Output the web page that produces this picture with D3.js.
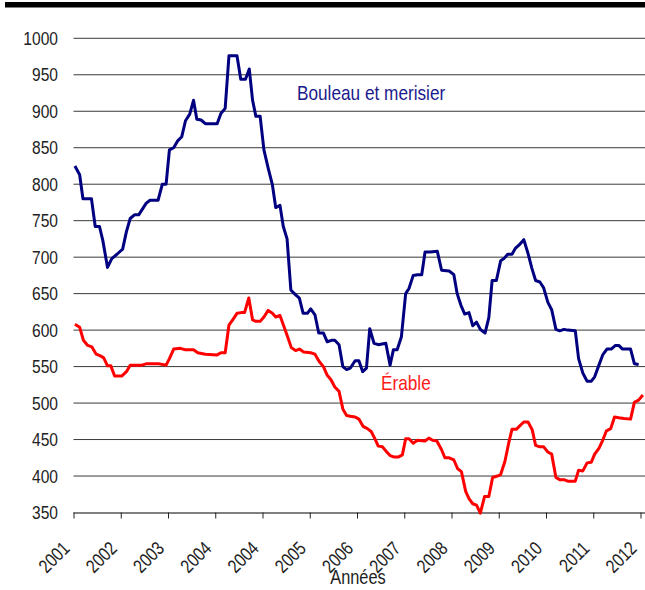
<!DOCTYPE html>
<html>
<head>
<meta charset="utf-8">
<script src="https://cdn.jsdelivr.net/npm/d3@7"></script>
<style>
    body { margin: 0; background: white; }
    text { font-family: 'Liberation Sans', Arial, sans-serif; }
</style>
</head>
<body>
<svg id="chart" width="645" height="590"></svg>
<script>
// # Data (t = years after the first tick)

var yearLabels = ['2001', '2002', '2003', '2004', '2004', '2005', '2006', '2007', '2008', '2009', '2010', '2011', '2012'];
var yTicks = [350, 400, 450, 500, 550, 600, 650, 700, 750, 800, 850, 900, 950, 1000];

var bouleauT = [0.03, 0.13, 0.2, 0.38, 0.46, 0.55, 0.62, 0.72, 0.81, 0.92, 1.04, 1.12, 1.2, 1.29, 1.38, 1.54, 1.62, 1.79, 1.88, 1.96,
    2.03, 2.12, 2.2, 2.29, 2.37, 2.46, 2.54, 2.61, 2.7, 2.79, 3.04, 3.12, 3.21, 3.29, 3.46, 3.54, 3.64, 3.72, 3.79, 3.86, 3.95,
    4.03, 4.12, 4.21, 4.28, 4.37, 4.44, 4.52, 4.6, 4.69, 4.78, 4.86, 4.95, 5.02, 5.11, 5.19, 5.29, 5.37, 5.46, 5.53, 5.62, 5.7,
    5.78, 5.86, 5.96, 6.04, 6.12, 6.2, 6.27, 6.36, 6.45, 6.61, 6.7, 6.77, 6.85, 6.94, 7.03, 7.1, 7.19, 7.28, 7.37, 7.44, 7.55,
    7.7, 7.79, 7.95, 8.05, 8.12, 8.2, 8.28, 8.37, 8.45, 8.53, 8.61, 8.71, 8.79, 8.86, 8.95, 9.04, 9.11, 9.19, 9.28, 9.35, 9.45,
    9.53, 9.62, 9.7, 9.78, 9.87, 9.95, 10.04, 10.12, 10.21, 10.29, 10.38, 10.46, 10.62, 10.69, 10.78, 10.87, 10.96, 11.03, 11.12,
    11.2, 11.29, 11.38, 11.47, 11.54, 11.62, 11.79, 11.87, 11.96];
var bouleauV = [825, 813, 780, 780, 742, 742, 723, 686, 698, 704, 711, 735, 753, 758, 758, 774, 778, 778, 800, 800,
    847, 850, 859, 865, 887, 896, 915, 889, 888, 883, 883, 897, 904, 976, 976, 944, 944, 958, 915, 893, 893,
    847, 822, 799, 768, 771, 742, 725, 655, 649, 644, 623, 623, 629, 621, 596, 596, 584, 586, 586, 580, 550,
    546, 548, 558, 558, 543, 548, 602, 582, 580, 582, 552, 573, 573, 591, 650, 657, 675, 676, 676, 707, 707,
    708, 682, 681, 676, 650, 634, 622, 624, 606, 611, 601, 596, 617, 668, 668, 695, 698, 704, 704, 712, 718,
    724, 705, 685, 668, 666, 658, 638, 628, 601, 599, 601, 600, 599, 561, 541, 530, 530, 536, 552,
    566, 574, 574, 579, 579, 574, 574, 554, 553];

var erableT = [0.03, 0.13, 0.21, 0.3, 0.39, 0.48, 0.56, 0.64, 0.72, 0.79, 0.87, 1.02, 1.12, 1.2, 1.45, 1.55, 1.8, 1.96,
    2.03, 2.12, 2.26, 2.37, 2.54, 2.63, 2.79, 3.04, 3.12, 3.21, 3.29, 3.38, 3.46, 3.55, 3.62, 3.71, 3.79, 3.86, 3.95,
    4.03, 4.12, 4.21, 4.28, 4.37, 4.52, 4.61, 4.7, 4.78, 4.87, 5.02, 5.11, 5.2, 5.29, 5.37, 5.45, 5.53, 5.62, 5.7,
    5.78, 5.86, 5.96, 6.04, 6.13, 6.22, 6.3, 6.38, 6.45, 6.54, 6.63, 6.7, 6.79, 6.87, 6.96, 7.03, 7.1, 7.19, 7.28,
    7.44, 7.52, 7.6, 7.69, 7.79, 7.86, 7.95, 8.05, 8.13, 8.21, 8.3, 8.37, 8.45, 8.53, 8.61, 8.7, 8.79, 8.87, 8.97,
    9.04, 9.13, 9.21, 9.28, 9.37, 9.45, 9.53, 9.62, 9.71, 9.78, 9.87, 9.95, 10.04, 10.12, 10.21, 10.29, 10.38, 10.46,
    10.62, 10.69, 10.78, 10.87, 10.96, 11.03, 11.12, 11.2, 11.28, 11.37, 11.45, 11.54, 11.65, 11.79, 11.87, 11.96, 12.05];
var erableV = [608, 604, 586, 579, 577, 567, 565, 562, 551, 551, 537, 537, 543, 552, 552, 554, 554, 552,
    561, 574, 575, 573, 573, 569, 567, 566, 569, 569, 607, 615, 623, 624, 624, 644, 614, 612, 612,
    618, 627, 623, 618, 620, 593, 576, 572, 574, 570, 569, 567, 557, 550, 538, 532, 522, 516, 492,
    483, 482, 481, 478, 468, 465, 461, 451, 441, 440, 433, 428, 426, 426, 429, 451, 451, 445, 449,
    448, 452, 449, 448, 436, 425, 425, 422, 410, 406, 379, 369, 362, 360, 349, 372, 372, 398, 400,
    402, 420, 445, 464, 464, 469, 474, 474, 463, 442, 440, 440, 433, 430, 398, 395, 395, 393,
    393, 408, 407, 418, 419, 430, 438, 449, 462, 465, 481, 480, 479, 478, 501, 504, 511];

// # Layout

var svg = d3.select('#chart');
var plotLeft = 73.5, plotRight = 645, xEnd = 640.5;
var yTop = 38.3, yBottom = 512.5;
var narrow = 0.82;   // squeeze Arial metrics into an Arial Narrow look

var x = d3.scaleLinear().domain([0, 12]).range([plotLeft, xEnd]);
var y = d3.scaleLinear().domain([350, 1000]).range([yBottom, yTop]);

function narrowText(px, py, str, size, color, anchor){
    // text squeezed horizontally around its anchor point
    return svg.append('text')
        .attr('transform', 'translate(' + px + ',' + py + ') scale(' + narrow + ',1)')
        .attr('text-anchor', anchor)
        .attr('font-size', size)
        .attr('fill', color)
        .text(str);
}

// top black bar
svg.append('rect')
    .attr('x', 5).attr('y', 2)
    .attr('width', 640).attr('height', 5.5)
    .attr('fill', 'black');

// gridlines
svg.append('g')
    .selectAll('line')
    .data(yTicks.slice(1))
    .join('line')
    .attr('x1', plotLeft).attr('x2', plotRight)
    .attr('y1', d => y(d)).attr('y2', d => y(d))
    .attr('stroke', '#3a3a3a')
    .attr('stroke-width', 1);

// y tick labels
yTicks.forEach(function(v){
    narrowText(58, y(v), v, 19, '#222', 'end').attr('dy', '0.35em');
});

// x axis
var xAxis = d3.axisBottom(x)
    .tickValues(d3.range(yearLabels.length))
    .tickFormat(i => yearLabels[i])
    .tickSize(6)
    .tickSizeOuter(0);

var gx = svg.append('g')
    .attr('transform', 'translate(0,' + yBottom + ')')
    .attr('font-family', null)
    .call(xAxis);

gx.attr('font-family', null).attr('font-size', null);
gx.select('.domain')
    .attr('d', 'M' + plotLeft + ',0.5H' + plotRight)
    .attr('stroke', 'black');
gx.selectAll('.tick line').attr('stroke', '#222');
gx.selectAll('.tick text')
    .attr('font-size', 19)
    .attr('fill', '#222')
    .attr('text-anchor', 'end')
    .attr('y', 0).attr('dy', 0)
    .attr('transform', 'translate(-3,37) rotate(-45) scale(' + narrow + ',1)');

// axis title
narrowText(358, 584, 'Années', 20, '#222', 'middle');

// # Lines

var line = d3.line()
    .x(d => x(d[0]))
    .y(d => y(d[1]));

svg.append('path')
    .datum(d3.zip(erableT, erableV))
    .attr('d', line)
    .attr('fill', 'none')
    .attr('stroke', '#ff0000')
    .attr('stroke-width', 3)
    .attr('stroke-linejoin', 'round');

svg.append('path')
    .datum(d3.zip(bouleauT, bouleauV))
    .attr('d', line)
    .attr('fill', 'none')
    .attr('stroke', '#000080')
    .attr('stroke-width', 3)
    .attr('stroke-linejoin', 'round');

// series labels
narrowText(297, 100, 'Bouleau et merisier', 21, '#1a1a8c', 'start');
narrowText(381, 390, 'Érable', 21, '#ff1a1a', 'start');
</script>
</body>
</html>
